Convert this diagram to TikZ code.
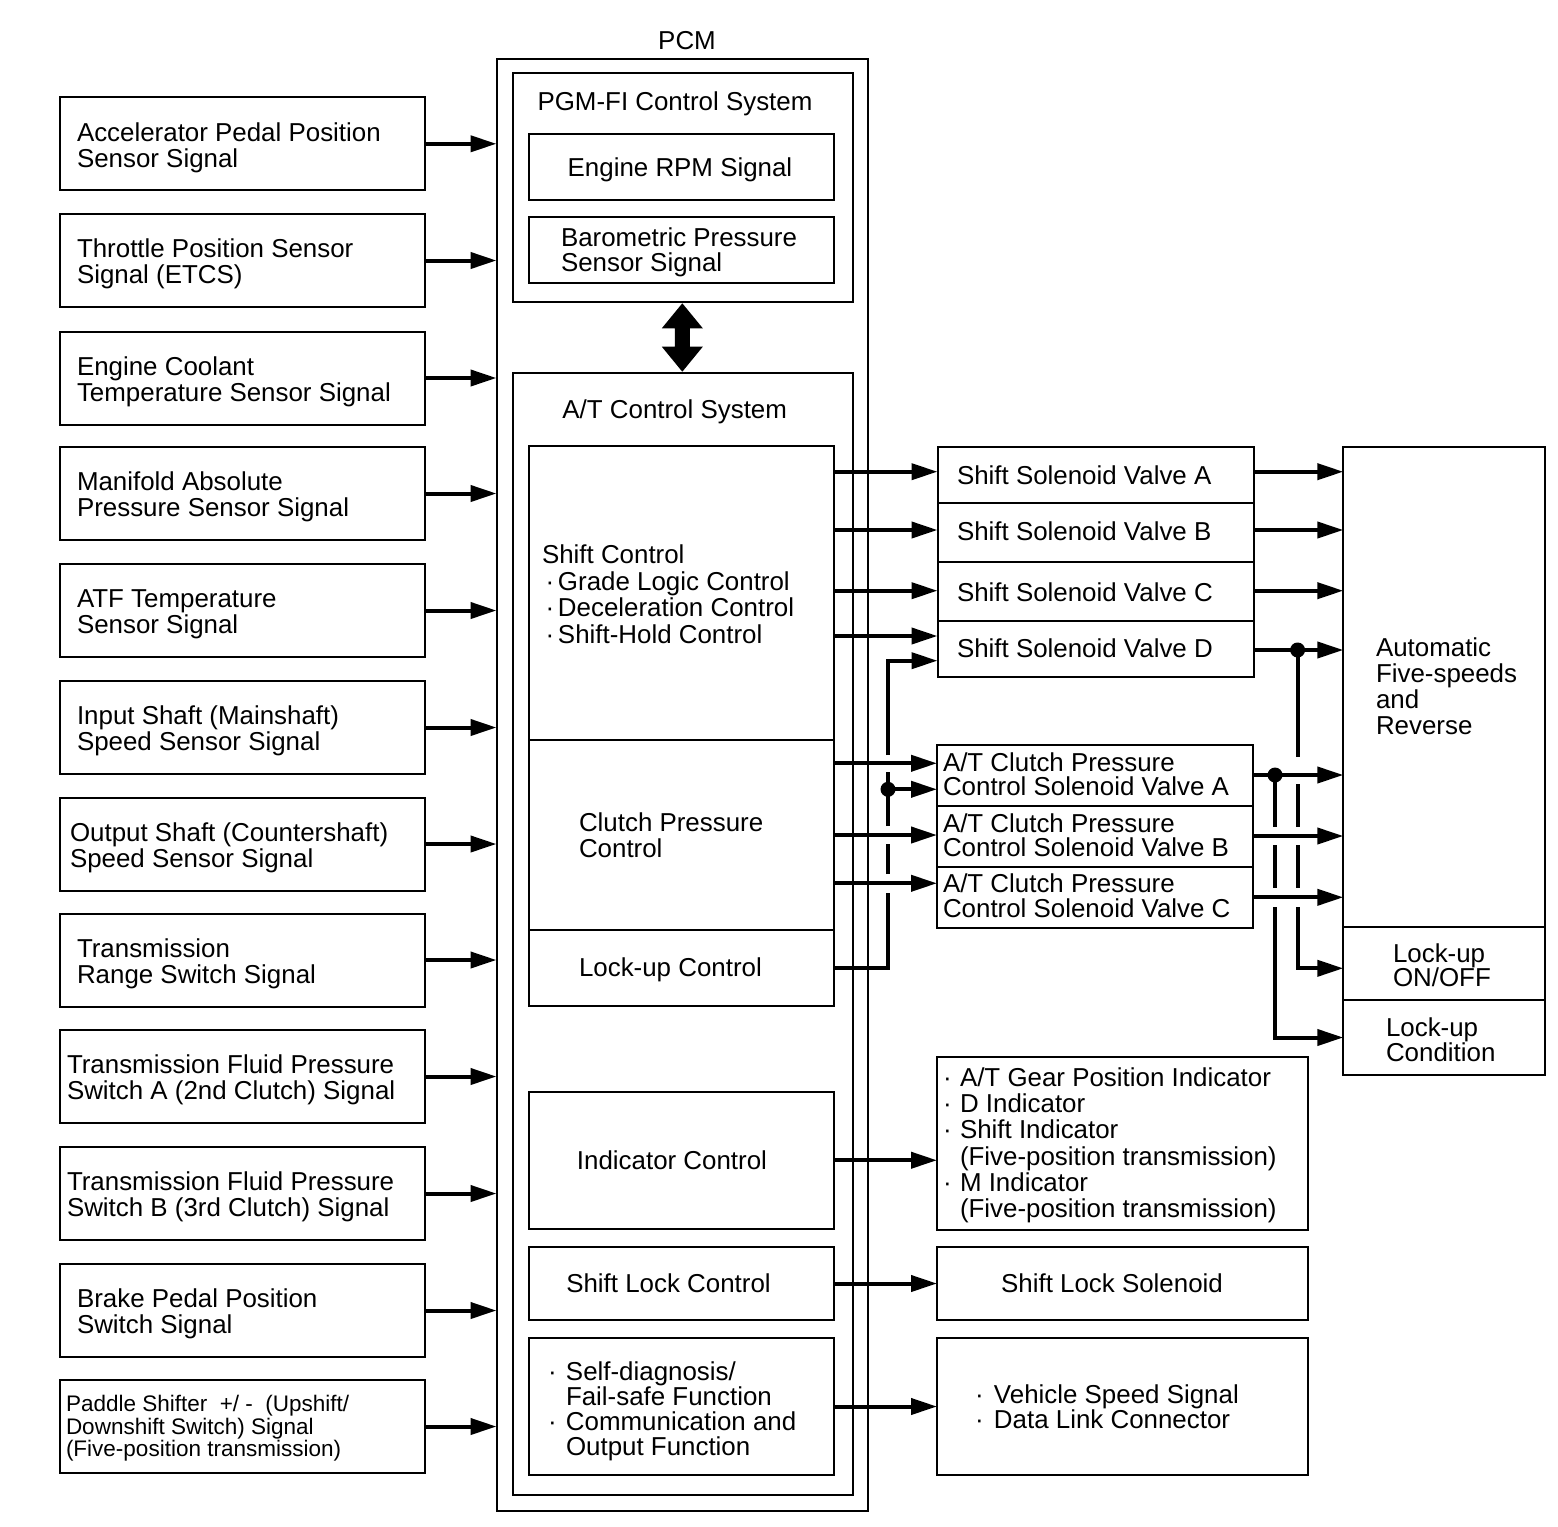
\documentclass[tikz,border=0pt]{standalone}
\usepackage{fontspec}
\setmainfont{Liberation Sans}
\usetikzlibrary{arrows.meta}
\newcommand\mybox[5]{\node[bx, minimum width=#4pt, minimum height=#5pt] (#1) at (#2,#3) {};}
\newcommand\bul[1]{\makebox[#1][l]{·}}
\begin{document}
\begin{tikzpicture}[x=1pt,y=-1pt,
  font=\fontsize{25.9}{26}\selectfont,
  bx/.style={draw, line width=2pt, inner sep=0pt, outer sep=0pt},
  txt/.style={inner sep=0pt, outer sep=0pt},
  txtm/.style={inner sep=0pt, outer sep=0pt, align=left, anchor=north west},
  conn/.style={line width=4pt},
  arr/.style={conn, -{Triangle[length=26pt,width=16pt]}}]
\useasboundingbox (0,0) rectangle (1558,1526);

% ---------- input boxes ----------
\mybox{in1}{242.5}{143.8}{365}{93}
\mybox{in2}{242.5}{260.5}{365}{93}
\mybox{in3}{242.5}{378}{365}{93}
\mybox{in4}{242.5}{493.5}{365}{93}
\mybox{in5}{242.5}{610.5}{365}{93}
\mybox{in6}{242.5}{727.5}{365}{93}
\mybox{in7}{242.5}{844}{365}{93}
\mybox{in8}{242.5}{960}{365}{93}
\mybox{in9}{242.5}{1076.5}{365}{93}
\mybox{in10}{242.5}{1193.5}{365}{93}
\mybox{in11}{242.5}{1310.5}{365}{93}
\mybox{in12}{242.5}{1426.5}{365}{93}

\node[txtm] (t1) at (77,122.5) {Accelerator Pedal Position\\Sensor Signal};
\node[txtm] (t2) at (77,239.2) {Throttle Position Sensor\\Signal (ETCS)};
\node[txtm] (t3) at (77,356.7) {Engine Coolant\\Temperature Sensor Signal};
\node[txtm] (t4) at (77,472.2) {Manifold Absolute\\Pressure Sensor Signal};
\node[txtm] (t5) at (77,589.2) {ATF Temperature\\Sensor Signal};
\node[txtm] (t6) at (77,706.2) {Input Shaft (Mainshaft)\\Speed Sensor Signal};
\node[txtm] (t7) at (70,822.7) {Output Shaft (Countershaft)\\Speed Sensor Signal};
\node[txtm] (t8) at (77,938.7) {Transmission\\Range Switch Signal};
\node[txtm] (t9) at (67,1055.2) {Transmission Fluid Pressure\\Switch A (2nd Clutch) Signal};
\node[txtm] (t10) at (67,1172.2) {Transmission Fluid Pressure\\Switch B (3rd Clutch) Signal};
\node[txtm] (t11) at (77,1289.2) {Brake Pedal Position\\Switch Signal};
\node[txtm, font=\fontsize{22.5}{22.7}\selectfont] (t12) at (66,1395) {Paddle Shifter~ +/ -~ (Upshift/\\Downshift Switch) Signal\\(Five-position transmission)};

% ---------- PCM ----------
\mybox{pcm}{682.25}{785.15}{371.5}{1451.7}
\node[txt, anchor=base] (pcmt) at (687,49.3) {PCM};
\mybox{pgm}{682.5}{187.4}{340}{228.2}
\node[txt, anchor=base] (pgmt) at (675,110.7) {PGM-FI Control System};
\mybox{rpm}{681.8}{167.15}{305}{65.7}
\node[txt, anchor=base] (rpmt) at (680,176) {Engine RPM Signal};
\mybox{baro}{681.8}{250.3}{305}{66}
\node[txtm, font=\fontsize{25.9}{24.7}\selectfont] (barot) at (561,228) {Barometric Pressure\\Sensor Signal};

\fill (682.3,303.3) -- (702.8,328.3) -- (689.8,328.3) -- (689.8,346.7) -- (702.8,346.7)
  -- (682.3,371.7) -- (661.8,346.7) -- (674.8,346.7) -- (674.8,328.3) -- (661.8,328.3) -- cycle;

\mybox{at}{682.5}{934.15}{340}{1121.7}
\node[txt, anchor=base] (att) at (674.7,418) {A/T Control System};
\mybox{sc}{681.8}{593}{305}{294}
\node[txtm, font=\fontsize{25.9}{26.5}\selectfont] (sct) at (542,545) {Shift Control\\\makebox[16pt][c]{·}Grade Logic Control\\\makebox[16pt][c]{·}Deceleration Control\\\makebox[16pt][c]{·}Shift-Hold Control};
\mybox{cpc}{681.8}{835}{305}{190}
\node[txtm] (cpct) at (579,813) {Clutch Pressure\\Control};
\mybox{luc}{681.8}{967.75}{305}{75.5}
\node[txt, anchor=base west] (luct) at (579,976) {Lock-up Control};
\mybox{ic}{681.8}{1160.25}{305}{137.5}
\node[txt, anchor=base] (ict) at (672,1169.3) {Indicator Control};
\mybox{slc}{681.8}{1283.5}{305}{73}
\node[txt, anchor=base] (slct) at (668.5,1292.5) {Shift Lock Control};
\mybox{sd}{681.8}{1406.5}{305}{137}
\node[txtm, font=\fontsize{25.9}{25}\selectfont] (sdt) at (548,1361.5) {\bul{18pt}Self-diagnosis/\\\makebox[18pt]{}Fail-safe Function\\\bul{18pt}Communication and\\\makebox[18pt]{}Output Function};

% ---------- outputs ----------
\mybox{sva}{1095.5}{474.9}{316}{56.8}
\mybox{svb}{1095.5}{532.8}{316}{59}
\mybox{svc}{1095.5}{591.5}{316}{58.4}
\mybox{svd}{1095.5}{649}{316}{56.6}
\node[txt, anchor=base west] (svat) at (957,484) {Shift Solenoid Valve A};
\node[txt, anchor=base west] (svbt) at (957,540.7) {Shift Solenoid Valve B};
\node[txt, anchor=base west] (svct) at (957,601.7) {Shift Solenoid Valve C};
\node[txt, anchor=base west] (svdt) at (957,657.3) {Shift Solenoid Valve D};

\mybox{cva}{1095}{775.35}{316}{60.7}
\mybox{cvb}{1095}{836.5}{316}{61.6}
\mybox{cvc}{1095}{897.8}{316}{61}
\node[txtm, font=\fontsize{25.9}{24.5}\selectfont] (cvat) at (943,752.5) {A/T Clutch Pressure\\Control Solenoid Valve A};
\node[txtm, font=\fontsize{25.9}{24.5}\selectfont] (cvbt) at (943,813.4) {A/T Clutch Pressure\\Control Solenoid Valve B};
\node[txtm, font=\fontsize{25.9}{24.5}\selectfont] (cvct) at (943,874) {A/T Clutch Pressure\\Control Solenoid Valve C};

\mybox{auto}{1444.15}{686.6}{201.7}{480.2}
\node[txtm] (autot) at (1376,638) {Automatic\\Five-speeds\\and\\Reverse};
\mybox{onoff}{1444.15}{963.35}{201.7}{73.3}
\node[txtm, font=\fontsize{25.9}{24.7}\selectfont] (onofft) at (1393,943.3) {Lock-up\\ON/OFF};
\mybox{cond}{1444.15}{1037.25}{201.7}{74.5}
\node[txtm, font=\fontsize{25.9}{24}\selectfont] (condt) at (1386,1018) {Lock-up\\Condition};

\mybox{il}{1122.25}{1143.25}{370.5}{172.5}
\node[txtm, font=\fontsize{25.9}{26.1}\selectfont] (ilt) at (943,1068) {\bul{17pt}A/T Gear Position Indicator\\\bul{17pt}D Indicator\\\bul{17pt}Shift Indicator\\\makebox[17pt]{}(Five-position transmission)\\\bul{17pt}M Indicator\\\makebox[17pt]{}(Five-position transmission)};
\mybox{sls}{1122.25}{1283.5}{370.5}{73}
\node[txt, anchor=base] (slst) at (1112,1292.5) {Shift Lock Solenoid};
\mybox{vs}{1122.25}{1406.5}{370.5}{137}
\node[txtm, font=\fontsize{25.9}{24.5}\selectfont] (vst) at (975,1385) {\bul{19pt}Vehicle Speed Signal\\\bul{19pt}Data Link Connector};

% ---------- input arrows ----------
\foreach \n in {1,...,12} {\draw[arr] (in\n.east) -- (pcm.west |- in\n.east);}

% ---------- shift control to valves ----------
\draw[arr] (sc.east |- 0,471.7) -- (sva.west |- 0,471.7);
\draw[arr] (sc.east |- 0,530) -- (svb.west |- 0,530);
\draw[arr] (sc.east |- 0,590.7) -- (svc.west |- 0,590.7);
\draw[arr] (sc.east |- 0,636) -- (svd.west |- 0,636);

% ---------- clutch pressure control to valves ----------
\draw[arr] (cpc.east |- 0,763.3) -- (cva.west |- 0,763.3);
\draw[arr] (cpc.east |- 0,835) -- (cvb.west |- 0,835);
\draw[arr] (cpc.east |- 0,883.3) -- (cvc.west |- 0,883.3);

% ---------- lock-up control line ----------
\draw[conn] (luc.east) -- (888,967.75) -- (888,893);
\draw[conn] (888,874) -- (888,844);
\draw[conn] (888,826) -- (888,772);
\draw[arr] (888,755) -- (888,660.7) -- (svd.west |- 0,660.7);
\coordinate (d1) at (888,789.3);
\fill (d1) circle[radius=7.5pt];
\draw[arr] (d1) -- (cva.west |- d1);

% ---------- valves to transmission ----------
\draw[arr] (sva.east |- 0,471.7) -- (auto.west |- 0,471.7);
\draw[arr] (svb.east |- 0,530) -- (auto.west |- 0,530);
\draw[arr] (svc.east |- 0,590.7) -- (auto.west |- 0,590.7);
\coordinate (d2) at (1297.6,650);
\draw[arr] (svd.east |- d2) -- (auto.west |- d2);
\fill (d2) circle[radius=7.5pt];
\draw[conn] (d2) -- (1297.6,757);
\draw[conn] (1297.6,784) -- (1297.6,827);
\draw[conn] (1297.6,845) -- (1297.6,888);
\draw[arr] (1297.6,907) -- (1297.6,968.3) -- (onoff.west |- 0,968.3);

\coordinate (d3) at (1275,775);
\draw[arr] (cva.east |- d3) -- (auto.west |- d3);
\fill (d3) circle[radius=7.5pt];
\draw[conn] (d3) -- (1275,827);
\draw[conn] (1275,845) -- (1275,888);
\draw[arr] (1275,907) -- (1275,1037.5) -- (cond.west |- 0,1037.5);
\draw[arr] (cvb.east |- 0,836) -- (auto.west |- 0,836);
\draw[arr] (cvc.east |- 0,897.3) -- (auto.west |- 0,897.3);

% ---------- lower outputs ----------
\draw[arr] (ic.east) -- (il.west |- ic.east);
\draw[arr] (slc.east) -- (sls.west);
\draw[arr] (sd.east) -- (vs.west);
\end{tikzpicture}
\end{document}
